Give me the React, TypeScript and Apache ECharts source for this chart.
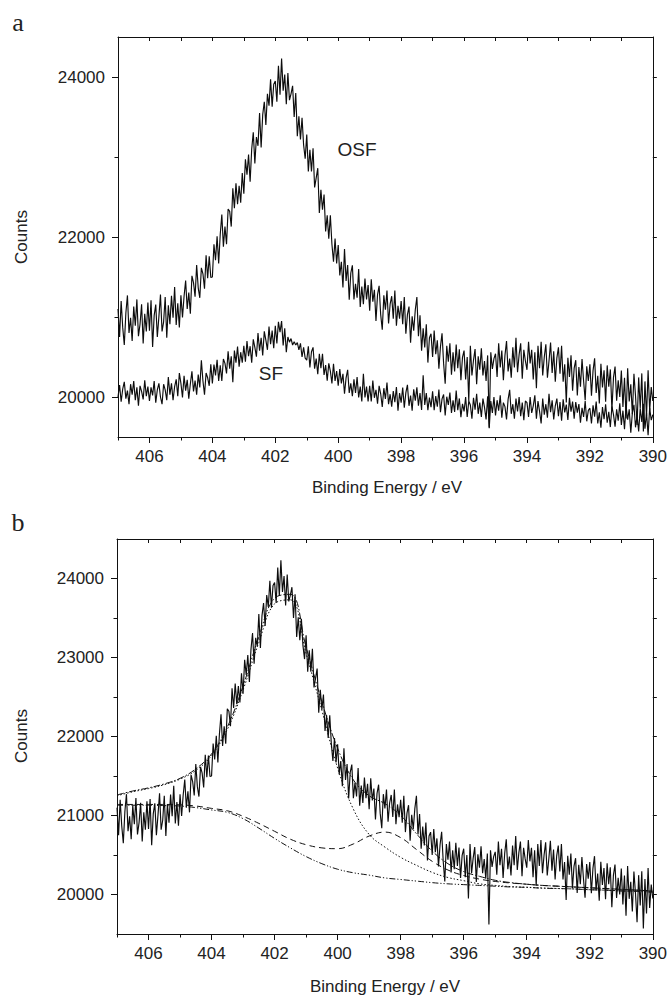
import React, { useEffect, useRef } from "react";
import * as echarts from "echarts";

// Binding energy grid of the measured spectra (eV), 0.05 eV steps from 407 down to 390
const E_START = 407;
const E_STEP = 0.05;

// OSF spectrum (counts), one row per eV
const osfCounts = [
  21100, 20750, 21200, 20870, 20650, 21050, 21270, 20800, 20990, 20700, 21130, 20890, 21220, 20760, 20910, 21160, 20670, 21040, 20820, 21180,
  20830, 21210, 20625, 21020, 21155, 20750, 21005, 21280, 20820, 20940, 21250, 20740, 21145, 20910, 21265, 20990, 21375, 20900, 21170, 20870,
  21270, 20995, 21260, 21455, 21100, 21305, 21040, 21515, 21430, 21255, 21650, 21365, 21240, 21615, 21540, 21355, 21770, 21485, 21760, 21495,
  21500, 21910, 21710, 22010, 21670, 22035, 22280, 21880, 22130, 21910, 22350, 22320, 22130, 22610, 22360, 22670, 22410, 22640, 22430, 22800,
  22540, 22970, 22780, 23030, 22690, 23100, 23310, 22920, 23250, 23140, 23550, 23120, 23530, 23690, 23400, 23790, 23640, 23970, 23630, 23910,
  23950, 23690, 24140, 23780, 24230, 23830, 24030, 23660, 24050, 23710, 23790, 23890, 23500, 23800, 23260, 23510, 23220, 23490, 23150, 22980,
  23280, 22820, 23090, 22820, 23110, 22620, 22740, 22860, 22300, 22590, 22340, 22530, 22070, 22270, 21980, 22270, 21910, 21690, 21980, 21670,
  21900, 21520, 21690, 21370, 21850, 21450, 21650, 21215, 21550, 21645, 21220, 21415, 21240, 21600, 21125, 21380, 21160, 21480, 21220, 21400,
  21080, 21470, 21190, 21340, 20950, 21280, 21390, 21030, 20840, 21270, 21090, 21330, 20920, 21160, 21260, 20980, 21330, 20890, 21140, 20980,
  21200, 20910, 21250, 20790, 21030, 21130, 20680, 21010, 20830, 21090, 21250, 20760, 21020, 20580, 20860, 20620, 20910, 20430, 20740, 20790,
  20500, 20830, 20535, 20710, 20355, 20630, 20795, 20420, 20165, 20640, 20440, 20670, 20280, 20560, 20320, 20655, 20360, 20595, 20210, 20495,
  20580, 20220, 20500, 19950, 20640, 20270, 20460, 20600, 20160, 20510, 20340, 20610, 20270, 20450, 20200, 20520, 19620, 20560, 20350, 20480,
  20540, 20250, 20670, 20370, 20580, 20210, 20520, 20700, 20320, 20480, 20240, 20620, 20370, 20740, 20310, 20530, 20670, 20230, 20590, 20450,
  20340, 20690, 20420, 20590, 20220, 20560, 20110, 20640, 20360, 20690, 20270, 20500, 20660, 20240, 20450, 20680, 20300, 20570, 20190, 20490,
  20620, 20290, 20640, 20190, 20410, 19930, 20490, 20250, 20520, 20080, 20360, 20460, 20020, 20375, 20130, 20475, 20200, 19960, 20385, 20200,
  20410, 20015, 20330, 20485, 20050, 20265, 19920, 20415, 20120, 20335, 19940, 20395, 20130, 20345, 19840, 20245, 20380, 19955, 20210, 20000,
  20330, 19875, 20240, 19730, 20360, 19945, 20160, 19785, 20290, 20015, 19650, 20245, 19860, 20295, 19570, 20195, 19760, 20335, 19830, 20125,
  19950,
];

// SF spectrum (counts), one row per eV
const sfCounts = [
  20000, 20150, 19940, 20100, 20190, 19980, 20080, 19910, 20160, 20030, 20200, 19960, 20120, 19890, 20140, 20070, 19970, 20210, 20010, 20130,
  19950, 20120, 20020, 20200, 19930, 20090, 20170, 20000, 19910, 20160, 20090, 19960, 20250, 20030, 20170, 19960, 20130, 20220, 20010, 20300,
  20170, 19995, 20265, 20080, 20215, 19980, 20165, 20320, 20070, 20205, 20030, 20280, 20120, 20460, 20200, 20030, 20300, 20240, 20140, 20410,
  20170, 20405, 20270, 20465, 20200, 20395, 20200, 20475, 20420, 20295, 20570, 20355, 20510, 20185, 20580, 20430, 20630, 20380, 20560, 20430,
  20640, 20440, 20700, 20510, 20635, 20430, 20720, 20620, 20505, 20800, 20580, 20740, 20520, 20820, 20710, 20590, 20880, 20660, 20830, 20610,
  20890, 20670, 20940, 20810, 20950, 20645, 20860, 20560, 20750, 20685, 20730, 20650, 20690, 20650, 20680, 20590, 20670, 20500, 20620, 20485,
  20460, 20635, 20370, 20565, 20620, 20355, 20480, 20285, 20540, 20360, 20540, 20275, 20400, 20205, 20420, 20325, 20170, 20415, 20200, 20325,
  20140, 20350, 20170, 20290, 20040, 20240, 20340, 20050, 20170, 20010, 20220, 20050, 20250, 19995, 20130, 19945, 20290, 19995, 20130, 19945,
  20140, 19945, 20205, 19990, 20090, 19915, 20140, 20040, 19875, 20110, 19975, 20180, 19910, 20035, 19880, 20075, 19935, 20125, 19830, 20050,
  19930, 20118, 19866, 20054, 20152, 19890, 20018, 19828, 20096, 19954, 20120, 19890, 20050, 19838, 20272, 19900, 20048, 19836, 19994, 19872,
  20070, 19836, 20012, 19878, 20094, 19810, 19976, 20032, 19768, 20004, 19900, 20056, 19802, 19958, 19814, 20080, 19836, 19982, 19748, 19914,
  19820, 20000, 19750, 19950, 19900, 19730, 19990, 19840, 20040, 19790, 19930, 19750, 19980, 19870, 19720, 20010, 19610, 19950, 19800, 20000,
  19770, 19960, 19830, 20020, 19740, 19930, 19880, 19720, 19970, 20090, 19790, 19910, 19730, 19980, 19820, 20000, 19760, 19930, 19710, 19950,
  19930, 19750, 20000, 19800, 19890, 20020, 19730, 19950, 19820, 19670, 19980, 19780, 19910, 19740, 20040, 19810, 19960, 19720, 19890, 19980,
  19760, 19937, 19704, 19971, 19808, 19905, 19712, 19989, 19816, 19943, 19730, 19937, 19804, 19911, 19678, 19865, 19752, 19949, 19696, 19833,
  19860, 19668, 19896, 19754, 19942, 19670, 19808, 19616, 19874, 19722, 19910, 19678, 19816, 19624, 19882, 19780, 19628, 19846, 19704, 19922,
  19650, 19829, 19598, 19887, 19716, 19845, 19554, 19803, 19902, 19621, 19770, 19569, 19858, 19687, 19916, 19605, 19804, 19523, 19862, 19710,
  19780,
];

// Fit curves of panel b (counts at fitEnergy)
const fitEnergy = [
  407, 406.5, 406, 405.5, 405, 404.5, 404, 403.5, 403, 402.5, 402, 401.5, 401, 400.5, 400, 399.5, 399, 398.5,
  398, 397.5, 397, 396.5, 396, 395.5, 395, 394.5, 394, 393.5, 393, 392.5, 392, 391.5, 391, 390.5, 390,
];
const fitEnvelope = [
  21260, 21310, 21350, 21400, 21470, 21590, 21780, 22120, 22640, 23260, 23750, 23800, 23130, 22440, 21850, 21450, 21250, 21150,
  21000, 20770, 20550, 20390, 20290, 20230, 20180, 20150, 20130, 20115, 20105, 20095, 20085, 20075, 20065, 20055, 20045,
];
const fitMainPeak = [
  21250, 21300, 21340, 21390, 21460, 21570, 21760, 22090, 22590, 23190, 23680, 23730, 23050, 22330, 21600, 21080, 20760, 20600,
  20470, 20370, 20280, 20215, 20175, 20135, 20115, 20100, 20092, 20082, 20076, 20070, 20061, 20055, 20046, 20040, 20030,
];
const fitMinorPeak = [
  21140, 21140, 21140, 21140, 21135, 21120, 21090, 21060, 20990, 20900, 20800, 20700, 20630, 20590, 20580, 20640, 20740, 20790,
  20720, 20570, 20420, 20310, 20240, 20195, 20165, 20145, 20130, 20115, 20105, 20095, 20085, 20075, 20065, 20055, 20045,
];
const fitBackground = [
  21130, 21130, 21130, 21125, 21120, 21100, 21070, 21040, 20960, 20840, 20710, 20590, 20480, 20390, 20320, 20275, 20245, 20210,
  20190, 20170, 20150, 20135, 20125, 20115, 20105, 20095, 20090, 20080, 20075, 20070, 20060, 20055, 20045, 20040, 20030,
];

// Tick values
const xMajorTicks = [390, 392, 394, 396, 398, 400, 402, 404, 406];
const xMinorTicks = [391, 393, 395, 397, 399, 401, 403, 405, 407];
const yMajorTicksA = [20000, 22000, 24000];
const yMinorTicksA = [21000, 23000];
const yMajorTicksB = [20000, 21000, 22000, 23000, 24000];
const yMinorTicksB = [20500, 21500, 22500, 23500];

const FONT = "'Liberation Sans', Arial, sans-serif";
const INK = "#111";
const TEXT = "#222";

function energyPairs(counts: number[]) {
  return counts.map((v, i) => [Number((E_START - i * E_STEP).toFixed(2)), v]);
}
function fitPairs(vals: number[]) {
  return vals.map((v, i) => [fitEnergy[i], v]);
}
const plain = (v: number) => String(v);

function xAxesFor(gridIndex: number) {
  const base: any = {
    type: "value",
    gridIndex,
    min: 390,
    max: 407,
    inverse: true,
    splitLine: { show: false },
    silent: true,
  };
  const line = { color: INK, width: 1 };
  return [
    {
      ...base,
      position: "bottom",
      axisLine: { show: true, onZero: false, lineStyle: line },
      axisTick: { show: true, customValues: xMajorTicks, length: 6, lineStyle: line },
      axisLabel: { show: true, customValues: xMajorTicks, formatter: plain, fontSize: 17, color: TEXT, margin: 11, fontFamily: FONT },
    },
    {
      ...base,
      position: "bottom",
      axisLine: { show: false, onZero: false },
      axisTick: { show: true, customValues: xMinorTicks, length: 3.5, lineStyle: line },
      axisLabel: { show: false },
    },
    {
      ...base,
      position: "top",
      axisLine: { show: true, onZero: false, lineStyle: line },
      axisTick: { show: true, inside: true, customValues: [...xMajorTicks, ...xMinorTicks], length: 4, lineStyle: line },
      axisLabel: { show: false },
    },
  ];
}

function yAxesFor(gridIndex: number, major: number[], minor: number[]) {
  const base: any = {
    type: "value",
    gridIndex,
    min: 19500,
    max: 24500,
    splitLine: { show: false },
    silent: true,
  };
  const line = { color: INK, width: 1 };
  return [
    {
      ...base,
      position: "left",
      axisLine: { show: true, onZero: false, lineStyle: line },
      axisTick: { show: true, customValues: major, length: 6, lineStyle: line },
      axisLabel: { show: true, customValues: major, formatter: plain, fontSize: 17, color: TEXT, margin: 13, fontFamily: FONT },
    },
    {
      ...base,
      position: "left",
      axisLine: { show: false, onZero: false },
      axisTick: { show: true, customValues: minor, length: 3.5, lineStyle: line },
      axisLabel: { show: false },
    },
    {
      ...base,
      position: "right",
      axisLine: { show: true, onZero: false, lineStyle: line },
      axisTick: { show: true, customValues: [...major, ...minor], length: 4, lineStyle: line },
      axisLabel: { show: false },
    },
  ];
}

function rawSeries(data: number[][], xi: number, yi: number) {
  return {
    type: "line",
    xAxisIndex: xi,
    yAxisIndex: yi,
    data,
    symbol: "none",
    showSymbol: false,
    silent: true,
    lineStyle: { color: "#0d0d0d", width: 1.15 },
    z: 3,
  };
}

function fitSeries(vals: number[], dash: number[]) {
  return {
    type: "line",
    xAxisIndex: 3,
    yAxisIndex: 3,
    data: fitPairs(vals),
    symbol: "none",
    showSymbol: false,
    silent: true,
    smooth: 0.4,
    lineStyle: { color: INK, width: 1, type: dash },
    z: 4,
  };
}

export default function App() {
  const ref = useRef<HTMLDivElement>(null);

  useEffect(() => {
    if (!ref.current) return;
    const chart = echarts.init(ref.current, undefined, { renderer: "svg" });
    const txt = (text: string, x: number, y: number, size: number, extra: any = {}) => ({
      type: "text",
      x,
      y,
      silent: true,
      ...extra,
      style: {
        text,
        fill: TEXT,
        font: `${size}px ${FONT}`,
        textAlign: "center",
        textVerticalAlign: "middle",
      },
    });
    const serif = "26px 'Liberation Serif', 'Times New Roman', serif";

    chart.setOption({
      animation: false,
      backgroundColor: "#ffffff",
      grid: [
        { left: 118, top: 37, width: 539, height: 400 },
        { left: 117, top: 539, width: 536, height: 395 },
      ],
      xAxis: [...xAxesFor(0), ...xAxesFor(1)],
      yAxis: [
        ...yAxesFor(0, yMajorTicksA, yMinorTicksA),
        ...yAxesFor(1, yMajorTicksB, yMinorTicksB),
      ],
      series: [
        rawSeries(energyPairs(osfCounts), 0, 0),
        rawSeries(energyPairs(sfCounts), 0, 0),
        rawSeries(energyPairs(osfCounts), 3, 3),
        fitSeries(fitBackground, [6, 2, 1.2, 2, 1.2, 2]),
        fitSeries(fitMinorPeak, [6, 4]),
        fitSeries(fitMainPeak, [1.5, 2]),
        fitSeries(fitEnvelope, [7, 2, 1.5, 2]),
      ],
      graphic: [
        {
          type: "text",
          x: 18,
          y: 22,
          silent: true,
          style: { text: "a", fill: TEXT, font: serif, textAlign: "center", textVerticalAlign: "middle" },
        },
        {
          type: "text",
          x: 18,
          y: 522,
          silent: true,
          style: { text: "b", fill: TEXT, font: serif, textAlign: "center", textVerticalAlign: "middle" },
        },
        txt("Counts", 21, 237, 17, { rotation: Math.PI / 2 }),
        txt("Counts", 21, 736, 17, { rotation: Math.PI / 2 }),
        txt("Binding Energy / eV", 387, 487, 17),
        txt("Binding Energy / eV", 385, 986, 17),
        txt("OSF", 357, 149, 19),
        txt("SF", 271, 373, 19),
      ],
    });
    return () => chart.dispose();
  }, []);

  return (
    <div
      ref={ref}
      style={{ position: "fixed", left: 0, top: 0, width: 670, height: 997, background: "#fff" }}
    />
  );
}
